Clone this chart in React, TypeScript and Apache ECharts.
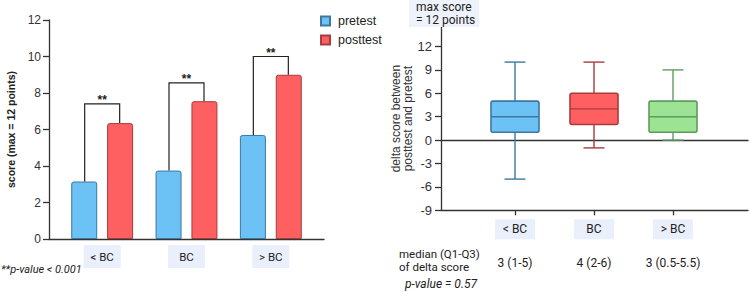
import React, { useEffect, useRef } from "react";
import * as echarts from "echarts";

// Knowledge scores by group, pretest vs posttest
const groups = ["< BC", "BC", "> BC"];
const pretest = [3.15, 3.75, 5.7];
const posttest = [6.35, 7.55, 9.0];
const bracketTops = [7.4, 8.55, 10.0];
const significance = ["**", "**", "**"];
const scoreTicks = [0, 2, 4, 6, 8, 10, 12];

// Delta score (posttest - pretest) per group: [min, Q1, median, Q3, max]
const deltaStats = [
  [-5, 1, 3, 5, 10],
  [-1, 2, 4, 6, 10],
  [0, 1, 3, 5, 9],
];
const deltaTicks = [-9, -6, -3, 0, 3, 6, 9, 12];
const medianIqr = ["3 (1-5)", "4 (2-6)", "3 (0.5-5.5)"];

const BLUE = "#6cc2f4";
const BLUE_EDGE = "#3d78a2";
const RED = "#fe5f60";
const RED_EDGE = "#a63c3c";
const GREEN = "#9ce394";
const GREEN_EDGE = "#5f9c5f";
const boxFills = [BLUE, RED, GREEN];
const boxEdges = [BLUE_EDGE, RED_EDGE, GREEN_EDGE];

const AXIS = "#333";
const SANS = "Liberation Sans";
const ROBOTO = "Roboto";

export default function App() {
  const ref = useRef<HTMLDivElement>(null);

  useEffect(() => {
    if (!ref.current) return;
    const chart = echarts.init(ref.current, null, { renderer: "svg" });

    const frameX = (gridIndex: number, extra: any = {}) => ({
      type: "value",
      gridIndex,
      min: 0,
      max: 1,
      axisLine: { show: true, onZero: false, lineStyle: { color: AXIS, width: 1.3 } },
      axisTick: { show: false },
      axisLabel: { show: false },
      splitLine: { show: false },
      ...extra,
    });

    const option: any = {
      animation: false,
      grid: [
        { left: 49, width: 275, top: 20, height: 219 },
        { left: 60, width: 253, top: 20, height: 219 },
        { left: 441, right: 2, top: 27, height: 183.3 },
        { left: 475.5, width: 237, top: 27, height: 183.3 },
      ],
      legend: {
        left: 320,
        top: 14,
        padding: 0,
        orient: "vertical",
        icon: "rect",
        itemWidth: 9,
        itemHeight: 9,
        itemGap: 5,
        data: ["pretest", "posttest"],
        textStyle: {
          fontFamily: SANS,
          fontSize: 12.5,
          color: "#222",
          lineHeight: 14,
          padding: [0, 0, 0, 3],
        },
      },
      xAxis: [
        frameX(0),
        {
          type: "category",
          gridIndex: 1,
          data: groups,
          axisLine: { show: false },
          axisTick: { show: false },
          axisLabel: {
            fontFamily: ROBOTO,
            fontSize: 11.5,
            color: "#222",
            backgroundColor: "#e9f0fb",
            width: 37,
            height: 23,
            lineHeight: 23,
            align: "center",
            margin: 6,
          },
        },
        frameX(2, { position: "bottom" }),
        frameX(2, { position: "top", axisLine: { show: true, onZero: true, lineStyle: { color: AXIS, width: 1.3 } } }),
        {
          type: "category",
          gridIndex: 3,
          data: groups,
          position: "bottom",
          axisLine: { show: false, onZero: false },
          axisTick: { show: true, alignWithLabel: true, length: 5, lineStyle: { color: AXIS, width: 1.3 } },
          axisLabel: {
            fontFamily: ROBOTO,
            fontSize: 12,
            color: "#222",
            backgroundColor: "#e9f0fb",
            width: 40,
            height: 20,
            lineHeight: 20,
            align: "center",
            margin: 9,
          },
        },
        {
          type: "category",
          gridIndex: 3,
          data: medianIqr,
          position: "bottom",
          axisLine: { show: false, onZero: false },
          axisTick: { show: false },
          axisLabel: { fontFamily: ROBOTO, fontSize: 12, color: "#222", margin: 47 },
        },
      ],
      yAxis: [
        {
          type: "value",
          gridIndex: 0,
          min: 0,
          max: 12,
          interval: 2,
          axisLine: { show: true, lineStyle: { color: AXIS, width: 1.3 } },
          axisTick: { show: true, length: 6, customValues: scoreTicks, lineStyle: { color: AXIS, width: 1.3 } },
          axisLabel: { fontFamily: SANS, fontSize: 12, color: "#333", margin: 8, customValues: scoreTicks },
          splitLine: { show: false },
          name: "score (max = 12 points)",
          nameLocation: "middle",
          nameGap: 33,
          nameTextStyle: { fontFamily: SANS, fontSize: 10.5, fontWeight: "bold", color: "#222" },
        },
        { type: "value", gridIndex: 1, min: 0, max: 12, show: false },
        {
          type: "value",
          gridIndex: 2,
          min: -9,
          max: 14.5,
          interval: 3,
          axisLine: { show: true, onZero: false, lineStyle: { color: AXIS, width: 1.3 } },
          axisTick: { show: true, length: 6, customValues: deltaTicks, lineStyle: { color: AXIS, width: 1.3 } },
          axisLabel: { fontFamily: SANS, fontSize: 13, color: "#333", margin: 9, customValues: deltaTicks },
          splitLine: { show: false },
          name: "delta score between\nposttest and pretest",
          nameLocation: "middle",
          nameGap: 24,
          nameTextStyle: { fontFamily: SANS, fontSize: 12, lineHeight: 12, color: "#333" },
        },
        { type: "value", gridIndex: 3, min: -9, max: 14.5, show: false },
      ],
      series: [
        {
          name: "pretest",
          type: "bar",
          xAxisIndex: 1,
          yAxisIndex: 1,
          data: pretest,
          barWidth: 26,
          barGap: "38%",
          itemStyle: { color: BLUE, borderColor: BLUE_EDGE, borderWidth: 1, borderRadius: [2, 2, 0, 0] },
        },
        {
          name: "posttest",
          type: "bar",
          xAxisIndex: 1,
          yAxisIndex: 1,
          data: posttest,
          barWidth: 26,
          barGap: "38%",
          itemStyle: { color: RED, borderColor: RED_EDGE, borderWidth: 1, borderRadius: [2, 2, 0, 0] },
        },
        {
          // significance brackets between paired bars
          type: "custom",
          xAxisIndex: 1,
          yAxisIndex: 1,
          z: 3,
          data: groups.map((_, i) => [i, pretest[i], posttest[i], bracketTops[i]]),
          renderItem: (params: any, api: any) => {
            const i = api.value(0);
            const [cx, yTop] = api.coord([i, api.value(3)]);
            const yPre = api.coord([i, api.value(1)])[1];
            const yPost = api.coord([i, api.value(2)])[1];
            const half = 17.5;
            return {
              type: "group",
              children: [
                {
                  type: "polyline",
                  shape: { points: [[cx - half, yPre], [cx - half, yTop], [cx + half, yTop], [cx + half, yPost]] },
                  style: { stroke: "#222", lineWidth: 1.2, fill: null },
                },
                {
                  type: "text",
                  x: cx,
                  y: yTop - 4,
                  style: {
                    text: significance[i],
                    align: "center",
                    verticalAlign: "middle",
                    fontFamily: SANS,
                    fontWeight: "bold",
                    fontSize: 12,
                    fill: "#222",
                  },
                },
              ],
            };
          },
        },
        {
          // box-and-whisker plot of delta scores
          type: "custom",
          xAxisIndex: 4,
          yAxisIndex: 3,
          z: 3,
          data: deltaStats.map((s, i) => [i, ...s]),
          renderItem: (params: any, api: any) => {
            const i = api.value(0);
            const y = (k: number) => api.coord([i, api.value(k)])[1];
            const cx = api.coord([i, 0])[0];
            const yMin = y(1), yQ1 = y(2), yMed = y(3), yQ3 = y(4), yMax = y(5);
            const boxW = 48;
            const capW = 21;
            const edge = boxEdges[i];
            const line = (x1: number, y1: number, x2: number, y2: number) => ({
              type: "line",
              shape: { x1, y1, x2, y2 },
              style: { stroke: edge, lineWidth: 1.4 },
            });
            return {
              type: "group",
              children: [
                line(cx, yMax, cx, yMin),
                line(cx - capW / 2, yMax, cx + capW / 2, yMax),
                line(cx - capW / 2, yMin, cx + capW / 2, yMin),
                {
                  type: "rect",
                  shape: { x: cx - boxW / 2, y: yQ3, width: boxW, height: yQ1 - yQ3, r: 2 },
                  style: { fill: boxFills[i], stroke: edge, lineWidth: 1.6 },
                },
                line(cx - boxW / 2, yMed, cx + boxW / 2, yMed),
              ],
            };
          },
        },
      ],
      graphic: [
        {
          type: "text",
          left: 409,
          top: 0,
          z: 10,
          style: {
            text: "max score\n= 12 points",
            fontFamily: ROBOTO,
            fontSize: 12,
            lineHeight: 12.5,
            fill: "#222",
            backgroundColor: "#eef2fa",
            padding: [1, 4, 1, 7],
          },
        },
        {
          type: "text",
          left: 399,
          top: 248,
          style: { text: "median (Q1-Q3)", fontFamily: ROBOTO, fontSize: 11.5, fill: "#222" },
        },
        {
          type: "text",
          left: 399,
          top: 260.5,
          style: { text: "of delta score", fontFamily: ROBOTO, fontSize: 11.5, fill: "#222" },
        },
        {
          type: "text",
          left: 405,
          top: 278,
          style: {
            text: "p-value = 0.57",
            fontFamily: ROBOTO,
            fontStyle: "italic",
            fontSize: 12,
            fill: "#222",
          },
        },
        {
          type: "text",
          left: 1,
          top: 264,
          style: {
            text: "**p-value < 0.001",
            fontFamily: ROBOTO,
            fontStyle: "italic",
            fontSize: 11,
            fill: "#222",
          },
        },
      ],
    };

    chart.setOption(option);
    return () => chart.dispose();
  }, []);

  return (
    <div
      ref={ref}
      style={{ position: "absolute", left: 0, top: 0, width: 750, height: 292, background: "#fff" }}
    />
  );
}
